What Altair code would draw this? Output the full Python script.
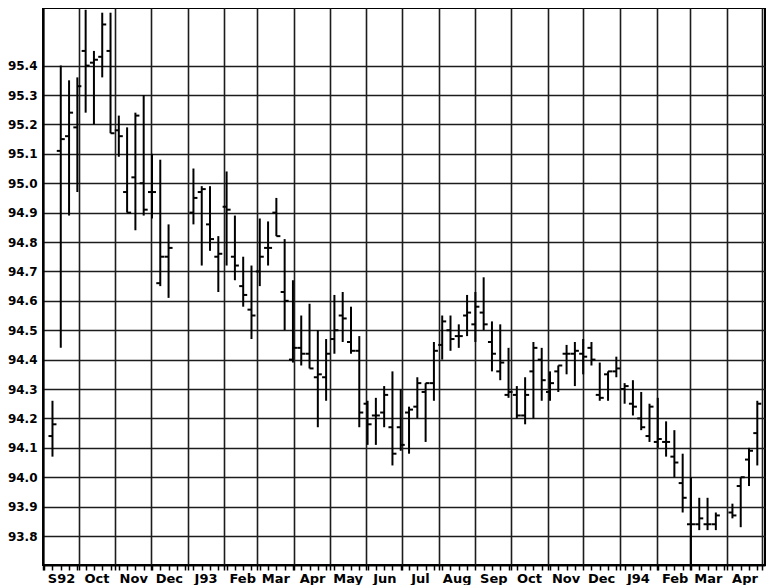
import json
import altair as alt
import pandas as pd

# Weekly bars (mid-week dates)
dates = [
    "1992-09-09", "1992-09-16", "1992-09-23", "1992-09-30", "1992-10-07", "1992-10-14", "1992-10-21", "1992-10-28",
    "1992-11-04", "1992-11-11", "1992-11-18", "1992-11-25", "1992-12-02", "1992-12-09", "1992-12-16",
    "1993-01-06", "1993-01-13", "1993-01-20", "1993-01-27", "1993-02-03", "1993-02-10", "1993-02-17", "1993-02-24",
    "1993-03-03", "1993-03-10", "1993-03-17", "1993-03-24", "1993-03-31", "1993-04-07", "1993-04-14", "1993-04-21", "1993-04-28",
    "1993-05-05", "1993-05-12", "1993-05-19", "1993-05-26", "1993-06-02", "1993-06-09", "1993-06-16", "1993-06-23", "1993-06-30",
    "1993-07-07", "1993-07-14", "1993-07-21", "1993-07-28", "1993-08-04", "1993-08-11", "1993-08-18", "1993-08-25",
    "1993-09-01", "1993-09-08", "1993-09-15", "1993-09-22", "1993-09-29", "1993-10-06", "1993-10-13", "1993-10-20", "1993-10-27",
    "1993-11-03", "1993-11-10", "1993-11-17", "1993-11-24", "1993-12-01", "1993-12-08", "1993-12-15", "1993-12-22", "1993-12-29",
    "1994-01-05", "1994-01-12", "1994-01-19", "1994-01-26", "1994-02-02", "1994-02-09", "1994-02-16", "1994-02-23",
    "1994-03-02", "1994-03-09", "1994-03-16", "1994-03-23", "1994-04-06", "1994-04-13", "1994-04-20", "1994-04-27",
]
highs = [
    94.26, 95.40, 95.35, 95.36, 95.59, 95.45, 95.58, 95.58,
    95.23, 95.19, 95.24, 95.30, 95.10, 95.08, 94.86,
    95.05, 94.99, 94.99, 94.82, 95.04, 94.89, 94.75, 94.72,
    94.88, 94.87, 94.95, 94.81, 94.67, 94.55, 94.59, 94.50, 94.47,
    94.62, 94.63, 94.58, 94.48, 94.26, 94.27, 94.31, 94.36, 94.30,
    94.24, 94.34, 94.32, 94.46, 94.55, 94.55, 94.52, 94.62,
    94.63, 94.68, 94.53, 94.52, 94.44, 94.31, 94.34, 94.46, 94.44,
    94.36, 94.38, 94.45, 94.46, 94.47, 94.46, 94.39, 94.36, 94.41,
    94.32, 94.33, 94.29, 94.25, 94.27, 94.19, 94.16, 94.08,
    94.00, 93.93, 93.93, 93.88, 93.91, 94.00, 94.10, 94.26,
]
lows = [
    94.07, 94.44, 94.89, 94.97, 95.24, 95.20, 95.36, 95.17,
    95.09, 94.90, 94.84, 94.89, 94.88, 94.65, 94.61,
    94.86, 94.72, 94.77, 94.63, 94.72, 94.67, 94.58, 94.47,
    94.65, 94.72, 94.82, 94.50, 94.39, 94.38, 94.37, 94.17, 94.26,
    94.42, 94.46, 94.42, 94.17, 94.11, 94.11, 94.17, 94.04, 94.09,
    94.08, 94.20, 94.12, 94.26, 94.40, 94.43, 94.44, 94.48,
    94.46, 94.50, 94.36, 94.33, 94.27, 94.20, 94.18, 94.20, 94.26,
    94.26, 94.29, 94.35, 94.31, 94.35, 94.38, 94.26, 94.26, 94.34,
    94.25, 94.21, 94.16, 94.12, 94.10, 94.07, 94.00, 93.88,
    93.70, 93.82, 93.82, 93.82, 93.86, 93.83, 93.97, 94.04,
]
opens = [
    94.14, 95.11, 95.16, 95.19, 95.45, 95.41, 95.43, 95.45,
    95.18, 94.97, 95.02, 95.00, 94.97, 94.66, 94.75,
    94.90, 94.97, 94.86, 94.75, 94.92, 94.75, 94.65, 94.57,
    94.70, 94.78, 94.90, 94.63, 94.40, 94.44, 94.42, 94.34, 94.34,
    94.47, 94.55, 94.46, 94.43, 94.25, 94.21, 94.22, 94.17, 94.17,
    94.22, 94.24, 94.29, 94.32, 94.45, 94.50, 94.48, 94.55,
    94.52, 94.56, 94.46, 94.36, 94.28, 94.28, 94.21, 94.36, 94.40,
    94.29, 94.36, 94.42, 94.42, 94.42, 94.44, 94.28, 94.35, 94.36,
    94.30, 94.25, 94.20, 94.14, 94.12, 94.12, 94.07, 93.98,
    93.84, 93.84, 93.84, 93.84, 93.88, 93.97, 94.06, 94.15,
]
closes = [
    94.18, 95.15, 95.24, 95.33, 95.40, 95.42, 95.54, 95.17,
    95.16, 94.90, 95.23, 94.91, 94.97, 94.75, 94.78,
    94.95, 94.98, 94.81, 94.76, 94.91, 94.72, 94.62, 94.55,
    94.75, 94.78, 94.82, 94.60, 94.44, 94.42, 94.37, 94.35, 94.42,
    94.50, 94.54, 94.43, 94.22, 94.18, 94.21, 94.28, 94.08, 94.11,
    94.23, 94.32, 94.32, 94.43, 94.53, 94.47, 94.48, 94.56,
    94.58, 94.52, 94.42, 94.39, 94.29, 94.21, 94.28, 94.44, 94.33,
    94.32, 94.38, 94.42, 94.43, 94.41, 94.40, 94.27, 94.36, 94.37,
    94.31, 94.24, 94.17, 94.24, 94.13, 94.12, 94.05, 93.93,
    93.84, 93.86, 93.84, 93.87, 93.87, 94.00, 94.09, 94.25,
]

month_labels = ["S92", "Oct", "Nov", "Dec", "J93", "Feb", "Mar", "Apr", "May", "Jun",
                "Jul", "Aug", "Sep", "Oct", "Nov", "Dec", "J94", "Feb", "Mar", "Apr"]
y_ticks = [93.8, 93.9, 94.0, 94.1, 94.2, 94.3, 94.4, 94.5, 94.6, 94.7,
           94.8, 94.9, 95.0, 95.1, 95.2, 95.3, 95.4]

df = pd.DataFrame({"date": dates, "high": highs, "low": lows, "open": opens, "close": closes})


def ms(t):
    return int(pd.Timestamp(t).value // 10**6)


month_starts = pd.date_range("1992-09-01", "1994-05-01", freq="MS")
week_ticks = pd.date_range("1992-09-02", "1994-04-27", freq="7D")
tick_vals = sorted(set(ms(t) for t in month_starts) | set(ms(t) for t in week_ticks))

label_expr = (
    "utcdate(datum.value) === 1 ? ("
    + json.dumps(month_labels)
    + "[(utcyear(datum.value) - 1992) * 12 + utcmonth(datum.value) - 8] || '') : ''"
)

FONT = "DejaVu Sans"
INK = "#000000"
GRID = "#1c1c1c"

x_scale = alt.Scale(
    type="utc",
    domain=[alt.DateTime(year=1992, month=9, date=1, utc=True),
            alt.DateTime(year=1994, month=5, date=3, hours=12, utc=True)],
)
y_scale = alt.Scale(domain=[93.7014, 95.596], nice=False, zero=False)

x_axis = alt.Axis(
    values=tick_vals,
    grid=True,
    gridColor=GRID,
    gridWidth=1.6,
    gridOpacity={"condition": {"test": "utcdate(datum.value) === 1", "value": 1}, "value": 0},
    tickSize=5,
    tickColor=INK,
    tickWidth=1.5,
    domainColor=INK,
    domainWidth=2,
    labelExpr=label_expr,
    labelOffset=18,
    labelOverlap=False,
    labelFlush=False,
    labelBound=False,
    labelPadding=2,
    labelFont=FONT,
    labelFontSize=13,
    labelFontWeight="bold",
    labelColor=INK,
    title=None,
)
y_axis = alt.Axis(
    values=y_ticks,
    format=".1f",
    grid=True,
    gridColor=GRID,
    gridWidth=1.6,
    ticks=False,
    domainColor=INK,
    domainWidth=2,
    labelPadding=6,
    labelOverlap=False,
    labelFont=FONT,
    labelFontSize=12,
    labelFontWeight="bold",
    labelColor=INK,
    title=None,
)

base = alt.Chart(df)
X = alt.X("date:T", scale=x_scale, axis=x_axis, title=None)

ranges = base.mark_rule(color=INK, strokeWidth=2).encode(
    x=X,
    y=alt.Y("low:Q", scale=y_scale, axis=y_axis, title=None),
    y2="high:Q",
)
open_ticks = base.mark_rule(color=INK, strokeWidth=2, xOffset=-4, x2Offset=0).encode(
    x=X,
    x2="date:T",
    y=alt.Y("open:Q", scale=y_scale, axis=y_axis, title=None),
)
close_ticks = base.mark_rule(color=INK, strokeWidth=2, xOffset=0, x2Offset=4).encode(
    x=X,
    x2="date:T",
    y=alt.Y("close:Q", scale=y_scale, axis=y_axis, title=None),
)

chart = (
    alt.layer(ranges, open_ticks, close_ticks)
    .properties(
        width=722,
        height=557,
        padding={"left": 35, "top": 0, "right": 2, "bottom": 20},
        autosize=alt.AutoSizeParams(type="none"),
        background="white",
    )
    .configure_view(stroke=INK, strokeWidth=2)
)

chart.save("out.html", embed_options={"renderer": "svg", "actions": False})
